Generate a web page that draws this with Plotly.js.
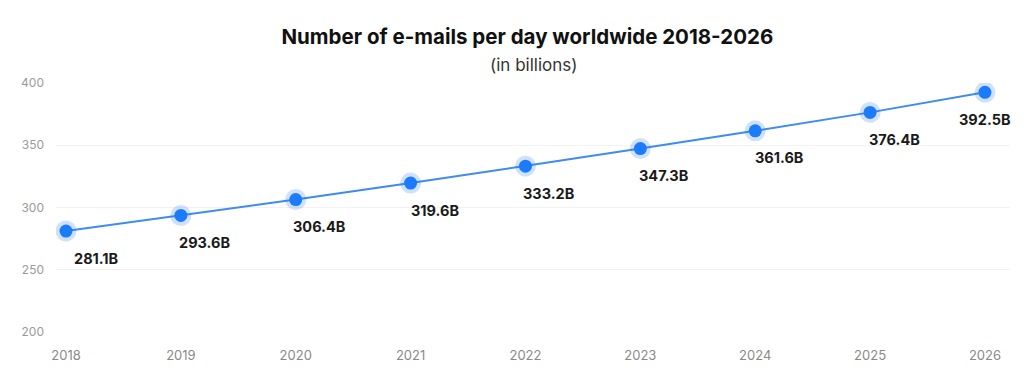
<!DOCTYPE html>
<html>
<head>
<meta charset="utf-8">
<script src="https://cdn.plot.ly/plotly-3.0.1.min.js"></script>
<style>
  html, body { margin: 0; padding: 0; background: #fff; }
  #chart { width: 1024px; height: 377px; }
</style>
</head>
<body>
<div id="chart"></div>
<script>
const years = [2018, 2019, 2020, 2021, 2022, 2023, 2024, 2025, 2026];
const emails = [281.1, 293.6, 306.4, 319.6, 333.2, 347.3, 361.6, 376.4, 392.5];
const labels = emails.map(v => v.toFixed(1) + 'B');
const yTicks = [200, 250, 300, 350, 400];

const FONT = 'Inter, "Noto Sans", sans-serif';

const traces = [
  {
    x: years, y: emails, type: 'scatter', mode: 'lines',
    line: { color: '#3d8cf0', width: 2 },
    hoverinfo: 'skip', showlegend: false
  },
  {
    x: years, y: emails, type: 'scatter', mode: 'markers',
    marker: { size: 21, color: 'rgba(40,120,240,0.22)' },
    hoverinfo: 'skip', showlegend: false
  },
  {
    x: years, y: emails, type: 'scatter', mode: 'markers',
    marker: { size: 13, color: '#1b7bfb' },
    showlegend: false
  }
];

const last = years.length - 1;
const annotations = years.map((yr, i) => ({
  x: yr, y: emails[i], xref: 'x', yref: 'y',
  text: labels[i], showarrow: false,
  xanchor: 'center', yanchor: 'middle',
  xshift: i === 0 ? 31 : (i === last ? 0 : 24),
  yshift: -27,
  font: { family: FONT, size: 14.5, color: '#1a1a1a', weight: 700 }
}));

annotations.push({
  xref: 'paper', yref: 'paper', x: 0.5, y: 1, yanchor: 'middle',
  xanchor: 'center', yshift: 18, showarrow: false,
  text: '(in billions)',
  font: { family: FONT, size: 17, color: '#333' }
});

const layout = {
  width: 1024, height: 377,
  margin: { l: 56, r: 14, t: 83, b: 45 },
  paper_bgcolor: '#fff', plot_bgcolor: '#fff',
  title: {
    text: '<b>Number of e-mails per day worldwide 2018-2026</b>',
    x: 0.515, xanchor: 'center', y: 0.903, yanchor: 'middle',
    font: { family: FONT, size: 20.5, color: '#111' }
  },
  xaxis: {
    range: [2017.913, 2026.218],
    tickvals: years, ticktext: years.map(String),
    showgrid: false, zeroline: false, showline: false,
    ticks: '', ticklabelstandoff: 14,
    tickfont: { family: FONT, size: 13, color: '#8a8a8a' }
  },
  yaxis: {
    range: [200, 400],
    tickvals: yTicks,
    showgrid: true, gridcolor: '#f2f2f2', gridwidth: 1,
    zeroline: false, showline: false,
    ticks: '', ticklabelstandoff: 11,
    tickfont: { family: FONT, size: 12, color: '#9a9a9a' }
  },
  annotations: annotations,
  hovermode: false
};

Plotly.newPlot('chart', traces, layout, { displayModeBar: false, staticPlot: true });
</script>
</body>
</html>
